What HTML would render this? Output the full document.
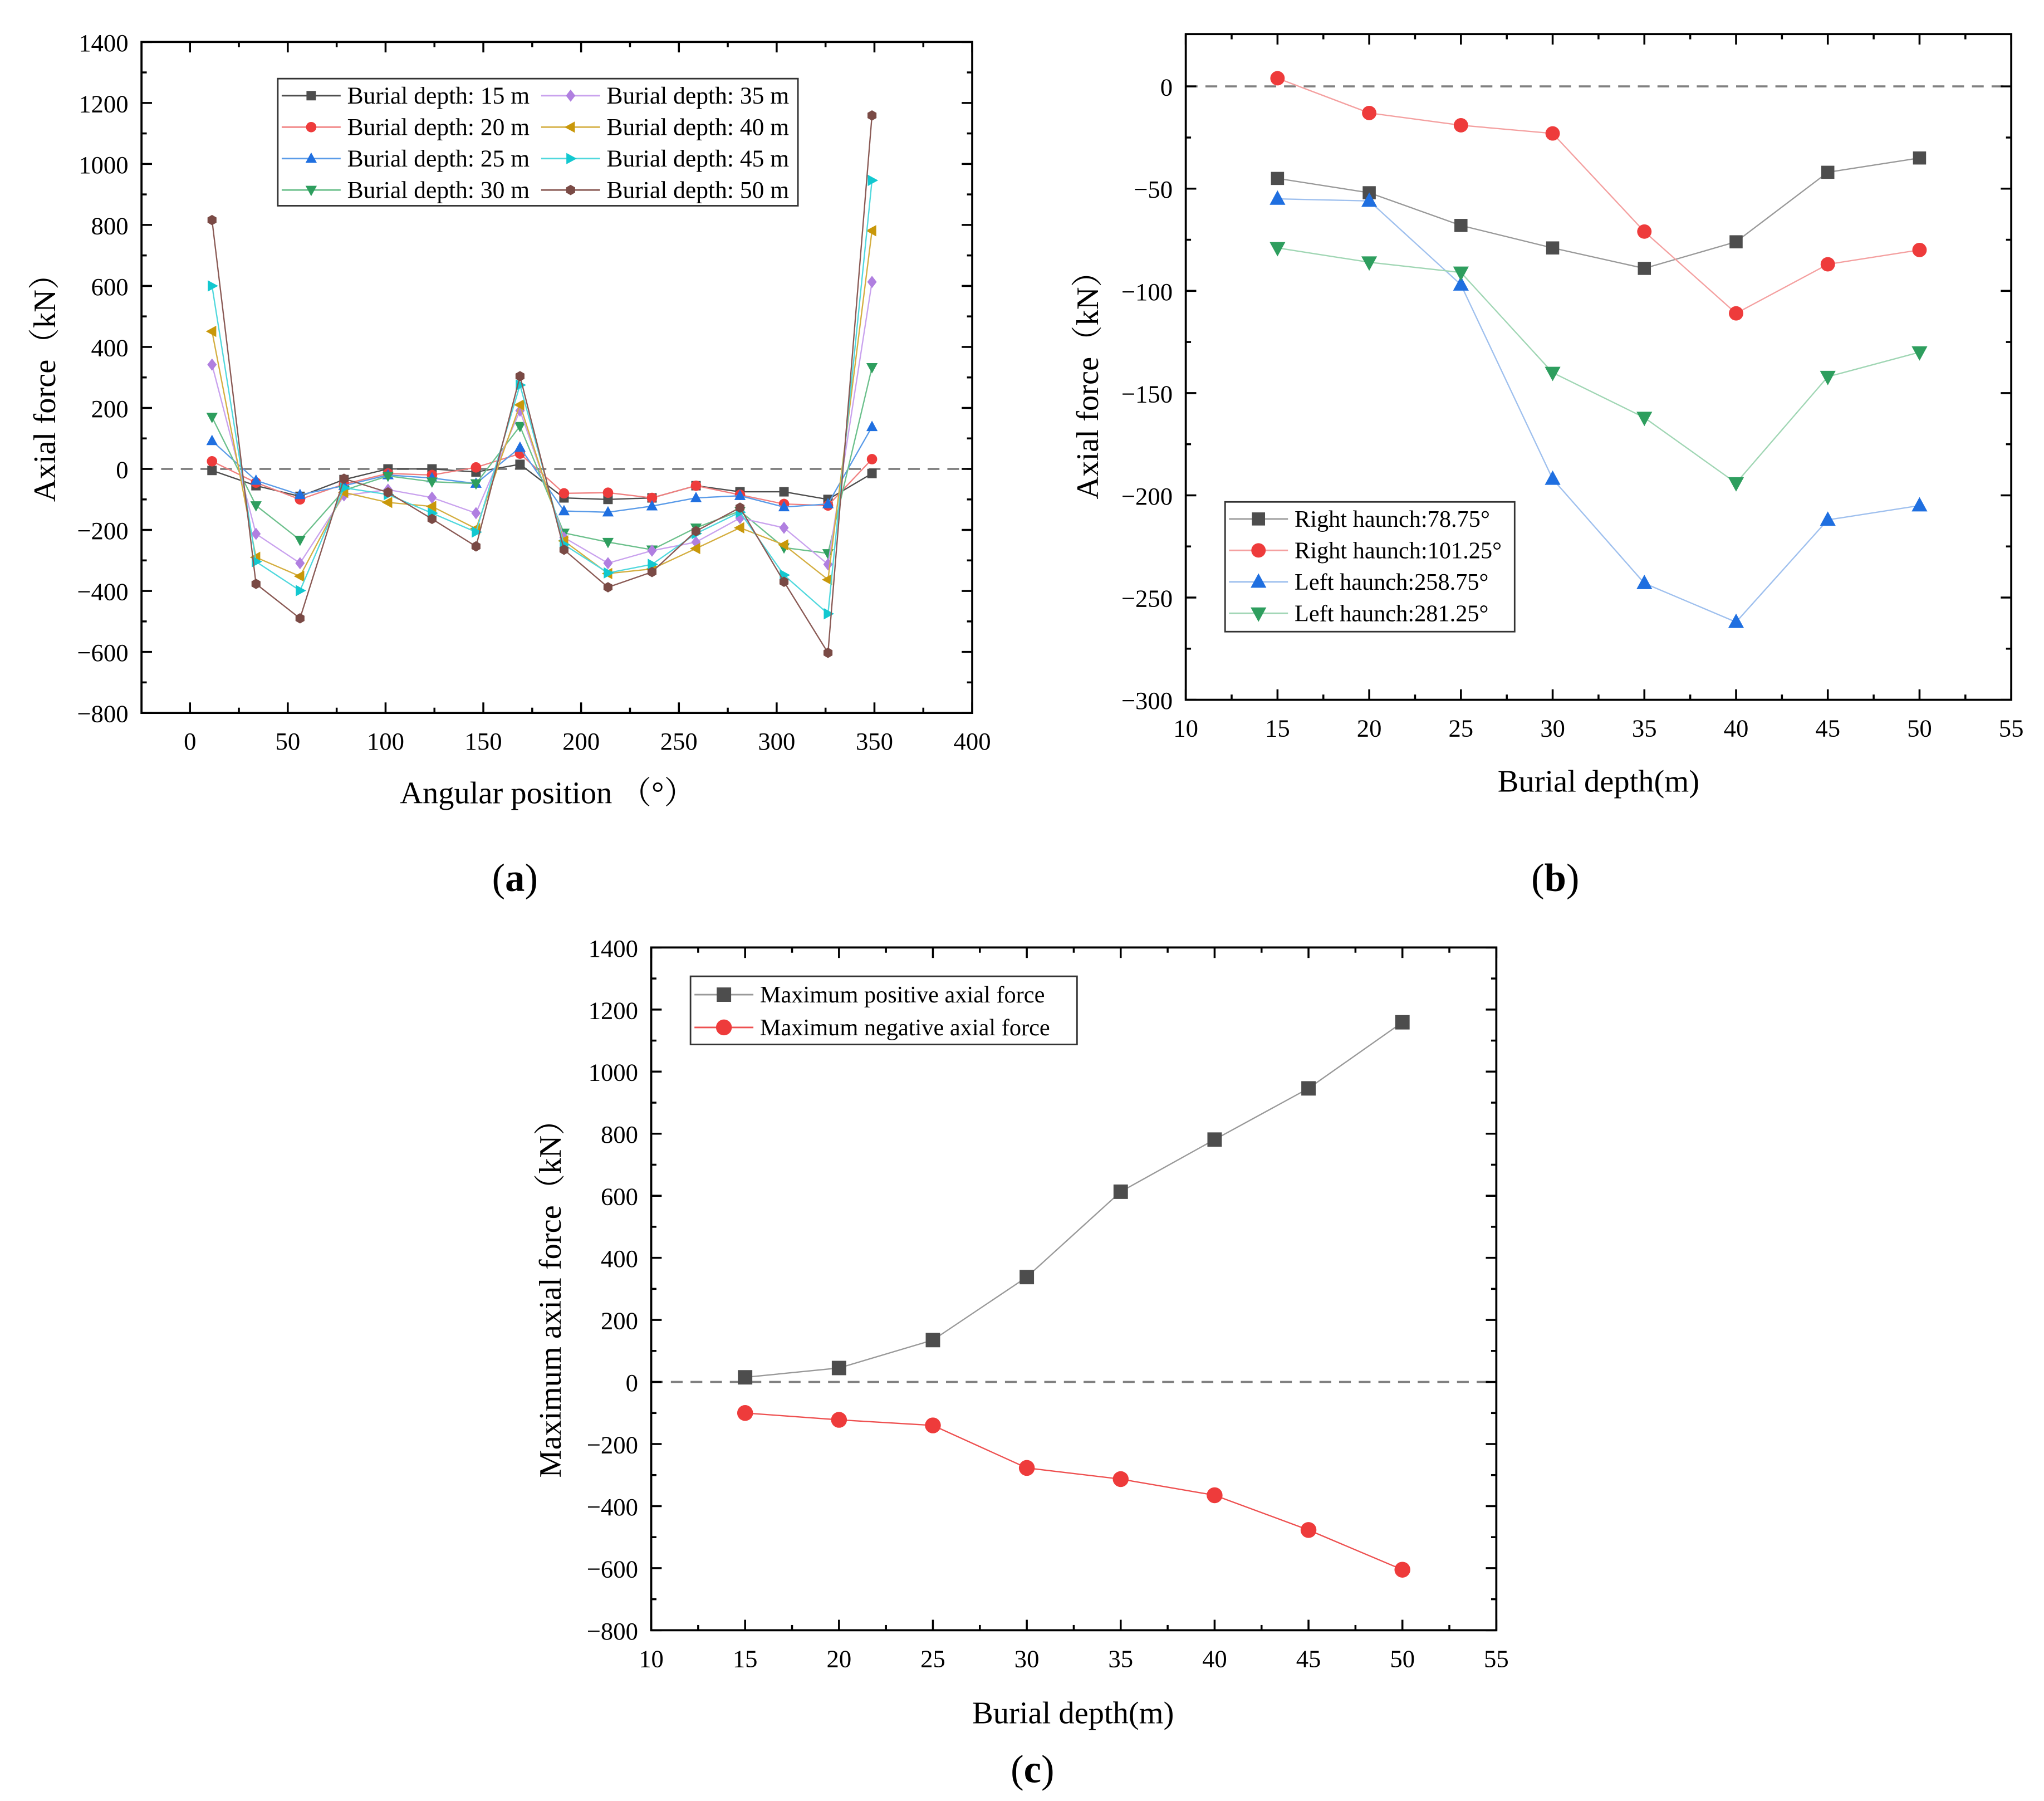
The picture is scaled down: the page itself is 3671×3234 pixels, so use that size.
<!DOCTYPE html>
<html><head><meta charset="utf-8"><style>
html,body{margin:0;padding:0;background:#fff;}
svg{display:block;font-family:"Liberation Serif","Noto Serif CJK SC",serif;}
</style></head><body>
<svg id="fig" xmlns="http://www.w3.org/2000/svg" width="3671" height="3234" viewBox="0 0 1560 1374.3"></svg>
<script>
// ---------- Panel (a) data ----------
const aAngles=[11.25,33.75,56.25,78.75,101.25,123.75,146.25,168.75,191.25,213.75,236.25,258.75,281.25,303.75,326.25,348.75];
const aNames=["Burial depth: 15 m","Burial depth: 20 m","Burial depth: 25 m","Burial depth: 30 m","Burial depth: 35 m","Burial depth: 40 m","Burial depth: 45 m","Burial depth: 50 m"];
const a15=[-5,-55,-90,-35,0,0,-10,15,-95,-100,-95,-55,-75,-75,-100,-15];
const a20=[25,-45,-100,-50,-15,-20,5,50,-80,-78,-95,-55,-85,-115,-120,32];
const a25=[92,-38,-85,-55,-20,-30,-48,70,-138,-142,-122,-95,-88,-125,-115,138];
const a30=[170,-120,-233,-70,-23,-42,-48,140,-210,-240,-265,-193,-138,-258,-277,333];
const a35=[342,-213,-309,-87,-68,-94,-145,191,-225,-309,-268,-240,-161,-193,-313,613];
const a40=[451,-290,-352,-77,-110,-123,-196,210,-236,-343,-328,-261,-193,-249,-363,781];
const a45=[600,-304,-399,-62,-84,-145,-207,275,-248,-341,-313,-212,-142,-348,-475,946];
const a50=[816,-377,-490,-32,-77,-164,-254,304,-265,-388,-338,-204,-127,-370,-603,1159];
const aXTicks=[0,50,100,150,200,250,300,350,400];
const aYTicks=[-800,-600,-400,-200,0,200,400,600,800,1000,1200,1400];
// ---------- Panel (b) data ----------
const bDepths=[15,20,25,30,35,40,45,50];
const bNames=["Right haunch:78.75°","Right haunch:101.25°","Left haunch:258.75°","Left haunch:281.25°"];
const bR78=[-45,-52,-68,-79,-89,-76,-42,-35];
const bR101=[4,-13,-19,-23,-71,-111,-87,-80];
const bL258=[-55,-56,-97,-192,-243,-262,-212,-205];
const bL281=[-79,-86,-91,-140,-162,-194,-142,-130];
const bXTicks=[10,15,20,25,30,35,40,45,50,55];
const bYTicks=[-300,-250,-200,-150,-100,-50,0];
// ---------- Panel (c) data ----------
const cDepths=[15,20,25,30,35,40,45,50];
const cNames=["Maximum positive axial force","Maximum negative axial force"];
const cPos=[15,45,135,338,613,781,946,1159];
const cNeg=[-100,-122,-140,-277,-313,-365,-477,-605];
const cXTicks=[10,15,20,25,30,35,40,45,50,55];
const cYTicks=[-800,-600,-400,-200,0,200,400,600,800,1000,1200,1400];

const NS="http://www.w3.org/2000/svg";
const fig=document.getElementById('fig');
function el(tag,attrs,parent,txt){const e=document.createElementNS(NS,tag);for(const k in attrs)e.setAttribute(k,attrs[k]);if(txt!==undefined)e.textContent=txt;(parent||fig).appendChild(e);return e;}

function marker(g,type,x,y,col,s){
  let m;
  if(type==='sq')m=el('rect',{x:x-s,y:y-s,width:2*s,height:2*s,fill:col},g);
  else if(type==='ci')m=el('circle',{cx:x,cy:y,r:s*1.1,fill:col},g);
  else if(type==='up')m=el('polygon',{points:`${x},${y-s*1.3} ${x-s*1.2},${y+s*0.9} ${x+s*1.2},${y+s*0.9}`,fill:col},g);
  else if(type==='dn')m=el('polygon',{points:`${x},${y+s*1.3} ${x-s*1.2},${y-s*0.9} ${x+s*1.2},${y-s*0.9}`,fill:col},g);
  else if(type==='di')m=el('polygon',{points:`${x},${y-s*1.3} ${x-s},${y} ${x},${y+s*1.3} ${x+s},${y}`,fill:col},g);
  else if(type==='lt')m=el('polygon',{points:`${x-s*1.3},${y} ${x+s*0.9},${y-s*1.2} ${x+s*0.9},${y+s*1.2}`,fill:col},g);
  else if(type==='rt')m=el('polygon',{points:`${x+s*1.3},${y} ${x-s*0.9},${y-s*1.2} ${x-s*0.9},${y+s*1.2}`,fill:col},g);
  else if(type==='hx'){let p=[];for(let i=0;i<6;i++){const a=Math.PI/3*i+Math.PI/6;p.push((x+s*1.1*Math.cos(a))+','+(y+s*1.1*Math.sin(a)));}m=el('polygon',{points:p.join(' '),fill:col},g);}
  
  
  return m;
}

function panel(cfg){
  const g=el('g',{});
  
  
  const X=v=>cfg.x0+(v-cfg.xmin)/(cfg.xmax-cfg.xmin)*(cfg.x1-cfg.x0);
  const Y=v=>cfg.y1-(v-cfg.ymin)/(cfg.ymax-cfg.ymin)*(cfg.y1-cfg.y0);
  const z=el('line',{x1:cfg.x0,x2:cfg.x1,y1:Y(0),y2:Y(0),stroke:'#808080','stroke-width':1.6,'stroke-dasharray':'9,6'},g);
  
  cfg.series.forEach((s,si)=>{
    const sg=el('g',{},g);
    
    
    const pts=s.vals.map((v,i)=>X(s.xs[i])+','+Y(v)).join(' ');
    el('polyline',{points:pts,fill:'none',stroke:s.line,'stroke-width':1},sg);
    s.vals.forEach((v,i)=>marker(sg,s.m,X(s.xs[i]),Y(v),s.col,cfg.ms));
  });
  const box=el('rect',{x:cfg.x0,y:cfg.y0,width:cfg.x1-cfg.x0,height:cfg.y1-cfg.y0,fill:'none',stroke:'#000','stroke-width':1.6},g);
  
  const xa=el('g',{},g);
  cfg.xt.forEach((t,i)=>{
    const x=X(t);
    el('line',{x1:x,x2:x,y1:cfg.y1,y2:cfg.y1-8,stroke:'#000','stroke-width':1.5},xa);
    el('line',{x1:x,x2:x,y1:cfg.y0,y2:cfg.y0+8,stroke:'#000','stroke-width':1.5},xa);
    if(i<cfg.xt.length-1){const xm=X((t+cfg.xt[i+1])/2);
      el('line',{x1:xm,x2:xm,y1:cfg.y1,y2:cfg.y1-4,stroke:'#000','stroke-width':1.5},xa);
      el('line',{x1:xm,x2:xm,y1:cfg.y0,y2:cfg.y0+4,stroke:'#000','stroke-width':1.5},xa);}
    const tl=el('text',{x:x,y:cfg.y1+28,'text-anchor':'middle','font-size':19},xa,t);
    
  });
  const ya=el('g',{},g);
  cfg.yt.forEach((t,i)=>{
    const y=Y(t);
    el('line',{x1:cfg.x0,x2:cfg.x0+8,y1:y,y2:y,stroke:'#000','stroke-width':1.5},ya);
    el('line',{x1:cfg.x1,x2:cfg.x1-8,y1:y,y2:y,stroke:'#000','stroke-width':1.5},ya);
    if(i<cfg.yt.length-1){const ym=Y((t+cfg.yt[i+1])/2);
      el('line',{x1:cfg.x0,x2:cfg.x0+4,y1:ym,y2:ym,stroke:'#000','stroke-width':1.5},ya);
      el('line',{x1:cfg.x1,x2:cfg.x1-4,y1:ym,y2:ym,stroke:'#000','stroke-width':1.5},ya);}
    const tl=el('text',{x:cfg.x0-10,y:y+7,'text-anchor':'end','font-size':19},ya,(t<0?'\u2212'+(-t):t));
    
  });
  const xt=el('text',{x:cfg.xlx,y:cfg.xly,'text-anchor':'middle','font-size':24},g,cfg.xl);
  
  const yt=el('text',{x:0,y:0,'text-anchor':'middle','font-size':24,transform:`translate(${cfg.ylx},${cfg.yly}) rotate(-90)`},g,cfg.yl);
  
  const pl=el('text',{x:cfg.plx,y:cfg.ply,'text-anchor':'middle','font-size':30},g);
  
  el('tspan',{},pl,'(');el('tspan',{'font-weight':'bold'},pl,cfg.pl);el('tspan',{},pl,')');
  const L=cfg.leg;
  const lg=el('g',{},g);
  el('rect',{x:L.x,y:L.y,width:L.w,height:L.h,fill:'#fff',stroke:'#333','stroke-width':1.2},lg);
  cfg.series.forEach((s,i)=>{
    const col=L.cols?Math.floor(i/L.rows):0,row=L.cols?i%L.rows:i;
    const lx=L.x+3+col*(L.cw||0),ly=L.y+L.r0+row*L.rh;
    const e=el('g',{},lg);
    
    
    el('line',{x1:lx,x2:lx+L.ll,y1:ly,y2:ly,stroke:s.line,'stroke-width':1.2},e);
    marker(e,s.m,lx+L.ll/2,ly,s.col,cfg.ms);
    el('text',{x:lx+L.ll+5,y:ly+6,'font-size':L.fs},e,s.label);
  });
}

const aStyles=[['sq','#4d4d4d','#4d4d4d'],['ci','#ee3b3b','#f08080'],['up','#1f6fe0','#5a9be8'],['dn','#2e9e5e','#6cc08c'],['di','#b07fe0','#c9a2ee'],['lt','#c9980a','#d4ae40'],['rt','#12c8d0','#50d8dd'],['hx','#7a4a45','#8a5a55']];
const aVals=[a15,a20,a25,a30,a35,a40,a45,a50];
panel({name:'panel-a-axial-force-vs-angle',x0:108,x1:742,y0:32,y1:544,xmin:-24.8,xmax:400,ymin:-800,ymax:1400,xt:aXTicks,yt:aYTicks,ms:3.6,
  xl:'Angular position （°）',xlx:418,xly:613,yl:'Axial force（kN）',ylx:42,yly:290,pl:'a',plx:393,ply:680,
  series:aVals.map((v,i)=>({key:'depth-'+(15+5*i),xs:aAngles,vals:v,m:aStyles[i][0],col:aStyles[i][1],line:aStyles[i][2],label:aNames[i]})),
  leg:{x:212,y:60,w:397,h:97,cols:2,rows:4,cw:198,r0:13,rh:24,ll:45,fs:18.5}});
const bStyles=[['sq','#4d4d4d','#999'],['ci','#ee3b3b','#f4a0a0'],['up','#1f6fe0','#9fc0ee'],['dn','#2e9e5e','#a0d6b4']];
const bVals=[bR78,bR101,bL258,bL281];
panel({name:'panel-b-haunch-axial-force',x0:905,x1:1535,y0:26,y1:534,xmin:10,xmax:55,ymin:-300,ymax:25.6,xt:bXTicks,yt:bYTicks,ms:5,
  xl:'Burial depth(m)',xlx:1220,xly:604,yl:'Axial force（kN）',ylx:838,yly:288,pl:'b',plx:1187,ply:680,
  series:bVals.map((v,i)=>({key:['right-78','right-101','left-258','left-281'][i],xs:bDepths,vals:v,m:bStyles[i][0],col:bStyles[i][1],line:bStyles[i][2],label:bNames[i]})),
  leg:{x:935,y:383,w:221,h:99,r0:13,rh:24,ll:45,fs:18}});
panel({name:'panel-c-max-axial-force',x0:497,x1:1142,y0:723,y1:1244,xmin:10,xmax:55,ymin:-800,ymax:1400,xt:cXTicks,yt:cYTicks,ms:5.5,
  xl:'Burial depth(m)',xlx:819,xly:1315,yl:'Maximum axial force（kN）',ylx:428,yly:985,pl:'c',plx:788,ply:1360,
  series:[{key:'max-positive',xs:cDepths,vals:cPos,m:'sq',col:'#4d4d4d',line:'#999',label:cNames[0]},{key:'max-negative',xs:cDepths,vals:cNeg,m:'ci',col:'#ee3b3b',line:'#ee5050',label:cNames[1]}],
  leg:{x:527,y:745,w:295,h:52,r0:14,rh:25,ll:45,fs:18}});
</script>
</body></html>
